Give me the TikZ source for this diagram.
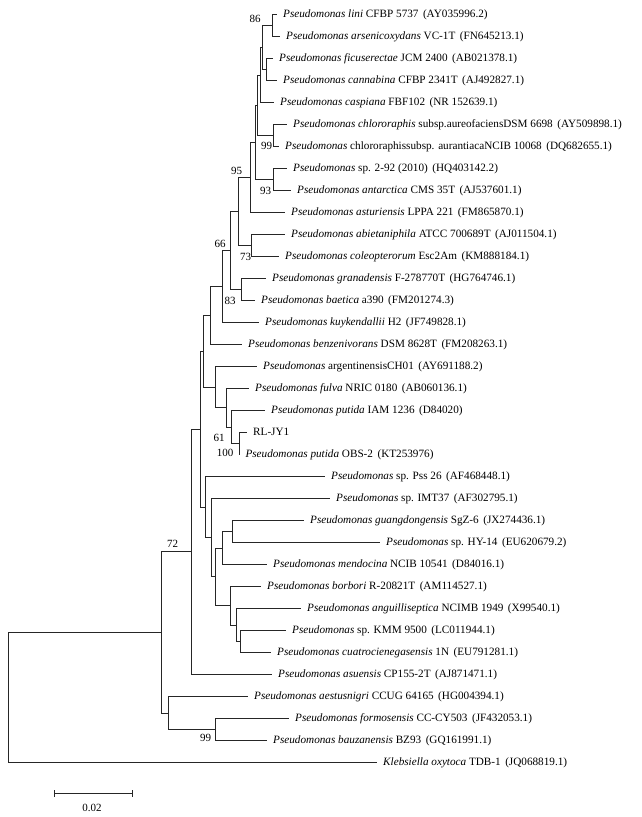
\documentclass[tikz,border=0pt]{standalone}
\usepackage{fontspec}
\setmainfont{Liberation Serif}
\newcommand{\acn}[1]{\hspace{0.4em}(#1)}
\newcommand{\Ps}{\textit{Pseudomonas}}
\begin{document}
\begin{tikzpicture}[x=1pt,y=-1pt,
  br/.style={draw=black!85, line width=0.9pt},
  leaf/.style={anchor=west, inner xsep=6pt, inner ysep=0pt, font=\fontsize{11.2}{13}\selectfont, text height=8pt, text depth=2.5pt},
  bs/.style={font=\fontsize{11}{13}\selectfont, inner sep=0pt}]
\useasboundingbox (0,0) rectangle (642,817);
% leaves
\node[leaf] (l1) at (277,14.5) {\Ps\ \textit{lini} CFBP 5737\acn{AY035996.2}};
\node[leaf] (l2) at (280,36.5) {\Ps\ \textit{arsenicoxydans} VC-1T\acn{FN645213.1}};
\node[leaf] (l3) at (273,58.5) {\Ps\ \textit{ficuserectae} JCM 2400\acn{AB021378.1}};
\node[leaf] (l4) at (277,80.5) {\Ps\ \textit{cannabina} CFBP 2341T\acn{AJ492827.1}};
\node[leaf] (l5) at (274,102.5) {\Ps\ \textit{caspiana} FBF102\acn{NR 152639.1}};
\node[leaf] (l6) at (287,124.5) {\Ps\ \textit{chlororaphis} subsp.aureofaciensDSM 6698\acn{AY509898.1}};
\node[leaf] (l7) at (279,146.5) {\Ps\ chlororaphissubsp. aurantiacaNCIB 10068\acn{DQ682655.1}};
\node[leaf] (l8) at (287,168.5) {\Ps\ sp. 2-92 (2010)\acn{HQ403142.2}};
\node[leaf] (l9) at (291,190.5) {\Ps\ \textit{antarctica} CMS 35T\acn{AJ537601.1}};
\node[leaf] (l10) at (285,212.5) {\Ps\ \textit{asturiensis} LPPA 221\acn{FM865870.1}};
\node[leaf] (l11) at (285,234.5) {\Ps\ \textit{abietaniphila} ATCC 700689T\acn{AJ011504.1}};
\node[leaf] (l12) at (279,256.5) {\Ps\ \textit{coleopterorum} Esc2Am\acn{KM888184.1}};
\node[leaf] (l13) at (266,278.5) {\Ps\ \textit{granadensis} F-278770T\acn{HG764746.1}};
\node[leaf] (l14) at (255,300.5) {\Ps\ \textit{baetica} a390\acn{FM201274.3}};
\node[leaf] (l15) at (259,322.5) {\Ps\ \textit{kuykendallii} H2\acn{JF749828.1}};
\node[leaf] (l16) at (242,344.5) {\Ps\ \textit{benzenivorans} DSM 8628T\acn{FM208263.1}};
\node[leaf] (l17) at (257,366.5) {\Ps\ argentinensisCH01\acn{AY691188.2}};
\node[leaf] (l18) at (249,388.5) {\Ps\ \textit{fulva} NRIC 0180\acn{AB060136.1}};
\node[leaf] (l19) at (265,410.5) {\Ps\ \textit{putida} IAM 1236\acn{D84020}};
\node[leaf] (l20) at (247,432.5) {RL-JY1};
\node[leaf] (l21) at (239.3,454.5) {\Ps\ \textit{putida} OBS-2\acn{KT253976}};
\node[leaf] (l22) at (325,476.5) {\Ps\ sp. Pss 26\acn{AF468448.1}};
\node[leaf] (l23) at (330,498.5) {\Ps\ sp. IMT37\acn{AF302795.1}};
\node[leaf] (l24) at (304,520.5) {\Ps\ \textit{guangdongensis} SgZ-6\acn{JX274436.1}};
\node[leaf] (l25) at (380,542.5) {\Ps\ sp. HY-14\acn{EU620679.2}};
\node[leaf] (l26) at (267,564.5) {\Ps\ \textit{mendocina} NCIB 10541\acn{D84016.1}};
\node[leaf] (l27) at (261,586.5) {\Ps\ \textit{borbori} R-20821T\acn{AM114527.1}};
\node[leaf] (l28) at (301,608.5) {\Ps\ \textit{anguilliseptica} NCIMB 1949\acn{X99540.1}};
\node[leaf] (l29) at (286,630.5) {\Ps\ sp. KMM 9500\acn{LC011944.1}};
\node[leaf] (l30) at (271,652.5) {\Ps\ \textit{cuatrocienegasensis} 1N\acn{EU791281.1}};
\node[leaf] (l31) at (272,674.5) {\Ps\ \textit{asuensis} CP155-2T\acn{AJ871471.1}};
\node[leaf] (l32) at (248,696.5) {\Ps\ \textit{aestusnigri} CCUG 64165\acn{HG004394.1}};
\node[leaf] (l33) at (289,718.5) {\Ps\ \textit{formosensis} CC-CY503\acn{JF432053.1}};
\node[leaf] (l34) at (267,740.5) {\Ps\ \textit{bauzanensis} BZ93\acn{GQ161991.1}};
\node[leaf] (l35) at (377,762.5) {\textit{Klebsiella oxytoca} TDB-1\acn{JQ068819.1}};
% internal nodes
\coordinate (LA) at (272,25.5);
\coordinate (FC) at (266.5,69.5);
\coordinate (LAFC) at (262,47.5);
\coordinate (Q1) at (260,75);
\coordinate (CH) at (273,135.5);
\coordinate (Q2) at (257.5,105.25);
\coordinate (AN) at (273,179.5);
\coordinate (Q3) at (255.5,142.4);
\coordinate (N95) at (250.7,177.5);
\coordinate (N73) at (251.7,245.5);
\coordinate (QA) at (238.3,211.5);
\coordinate (N83) at (241.7,289.5);
\coordinate (QB) at (230,250.5);
\coordinate (QC) at (222,286.5);
\coordinate (QD) at (210.7,315.5);
\coordinate (G4) at (239.3,443.5);
\coordinate (G3) at (231.7,427);
\coordinate (G2) at (226.7,407.75);
\coordinate (G1) at (215,387.1);
\coordinate (K) at (203.5,351.3);
\coordinate (N240) at (240,641.5);
\coordinate (N236) at (236,625);
\coordinate (N230) at (230,605.75);
\coordinate (GH) at (232.3,531.5);
\coordinate (M) at (222.7,548);
\coordinate (N215) at (215,576.9);
\coordinate (N211) at (211.7,537.7);
\coordinate (N205) at (205.5,507.1);
\coordinate (C) at (200.7,429.2);
\coordinate (B) at (191.7,551.85);
\coordinate (D99) at (215.7,729.5);
\coordinate (Dn) at (168.3,713);
\coordinate (R1) at (161,632.4);
\coordinate (root) at (8,697.5);
% branches
\draw[br] (LA) |- (l1.west); \draw[br] (LA) |- (l2.west);
\draw[br] (FC) |- (l3.west); \draw[br] (FC) |- (l4.west);
\draw[br] (LAFC) |- (LA); \draw[br] (LAFC) |- (FC);
\draw[br] (Q1) |- (LAFC); \draw[br] (Q1) |- (l5.west);
\draw[br] (CH) |- (l6.west); \draw[br] (CH) |- (l7.west);
\draw[br] (Q2) |- (Q1); \draw[br] (Q2) |- (CH);
\draw[br] (AN) |- (l8.west); \draw[br] (AN) |- (l9.west);
\draw[br] (Q3) |- (Q2); \draw[br] (Q3) |- (AN);
\draw[br] (N95) |- (Q3); \draw[br] (N95) |- (l10.west);
\draw[br] (N73) |- (l11.west); \draw[br] (N73) |- (l12.west);
\draw[br] (QA) |- (N95); \draw[br] (QA) |- (N73);
\draw[br] (N83) |- (l13.west); \draw[br] (N83) |- (l14.west);
\draw[br] (QB) |- (QA); \draw[br] (QB) |- (N83);
\draw[br] (QC) |- (QB); \draw[br] (QC) |- (l15.west);
\draw[br] (QD) |- (QC); \draw[br] (QD) |- (l16.west);
\draw[br] (G4) |- (l20.west); \draw[br] (G4) |- (l21.west);
\draw[br] (G3) |- (l19.west); \draw[br] (G3) |- (G4);
\draw[br] (G2) |- (l18.west); \draw[br] (G2) |- (G3);
\draw[br] (G1) |- (l17.west); \draw[br] (G1) |- (G2);
\draw[br] (K) |- (QD); \draw[br] (K) |- (G1);
\draw[br] (N240) |- (l29.west); \draw[br] (N240) |- (l30.west);
\draw[br] (N236) |- (l28.west); \draw[br] (N236) |- (N240);
\draw[br] (N230) |- (l27.west); \draw[br] (N230) |- (N236);
\draw[br] (GH) |- (l24.west); \draw[br] (GH) |- (l25.west);
\draw[br] (M) |- (GH); \draw[br] (M) |- (l26.west);
\draw[br] (N215) |- (M); \draw[br] (N215) |- (N230);
\draw[br] (N211) |- (l23.west); \draw[br] (N211) |- (N215);
\draw[br] (N205) |- (l22.west); \draw[br] (N205) |- (N211);
\draw[br] (C) |- (K); \draw[br] (C) |- (N205);
\draw[br] (B) |- (C); \draw[br] (B) |- (l31.west);
\draw[br] (D99) |- (l33.west); \draw[br] (D99) |- (l34.west);
\draw[br] (Dn) |- (l32.west); \draw[br] (Dn) |- (D99);
\draw[br] (R1) |- (B); \draw[br] (R1) |- (Dn);
\draw[br] (root) |- (R1); \draw[br] (root) |- (l35.west);
% bootstrap values
\node[bs] (b86) at (255,18.5) {86};
\node[bs] (b99a) at (266.5,145.5) {99};
\node[bs] (b95) at (236.5,170.5) {95};
\node[bs] (b93) at (265.5,190.5) {93};
\node[bs] (b73) at (245.5,257) {73};
\node[bs] (b66) at (220,243.5) {66};
\node[bs] (b83) at (230,300.5) {83};
\node[bs] (b61) at (219,437.5) {61};
\node[bs] (b100) at (225,453) {100};
\node[bs] (b72) at (172.5,543.5) {72};
\node[bs] (b99b) at (205.5,737.5) {99};
% scale bar
\coordinate (s1) at (54,793);
\coordinate (s2) at (132,793);
\draw[br] (s1) -- (s2);
\draw[br] ([yshift=-3.5pt]s1) -- ([yshift=3.5pt]s1);
\draw[br] ([yshift=-3.5pt]s2) -- ([yshift=3.5pt]s2);
\node[bs] (sl) at (92,808) {0.02};
\end{tikzpicture}
\end{document}
